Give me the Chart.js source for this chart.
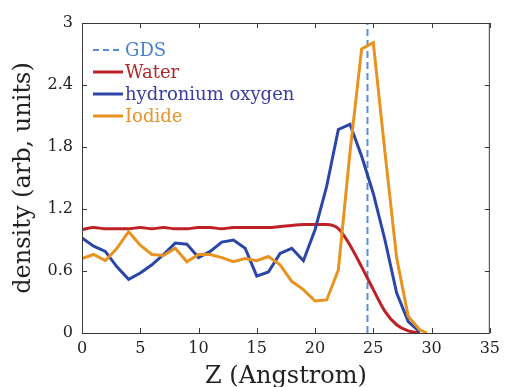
<!DOCTYPE html>
<html>
<head>
<meta charset="utf-8">
<script src="https://cdn.jsdelivr.net/npm/chart.js@4"></script>
<style>
  html, body { margin: 0; padding: 0; background: #fff; }
  #wrap { width: 506px; height: 387px; }
</style>
</head>
<body>
<div id="wrap"><canvas id="densityChart" width="506" height="387"></canvas></div>
<script>
// values
const zWater = [0,1,2,3,4,5,6,7,8,9,10,11,12,13,14,15,16,17,18,19,20,21,22,23,24,25,26,27,28,29];
const water = [1.00,1.02,1.01,1.01,1.01,1.02,1.01,1.02,1.01,1.01,1.02,1.02,1.01,1.02,1.02,1.02,1.02,1.03,1.04,1.05,1.05,1.05,1.01,0.85,0.64,0.42,0.21,0.08,0.02,0.00];

const zHydro = [0,1,2,3,4,5,6,7,8,9,10,11,12,13,14,15,16,17,18,19,20,21,22,23,24,25,26,27,28,29];
const hydronium = [0.92,0.84,0.79,0.64,0.52,0.58,0.66,0.76,0.87,0.86,0.73,0.79,0.88,0.90,0.82,0.55,0.59,0.77,0.82,0.70,1.00,1.42,1.97,2.02,1.71,1.35,0.90,0.39,0.11,0.01];

const zIodide = [0,1,2,3,4,5,6,7,8,9,10,11,12,13,14,15,16,17,18,19,20,21,22,23,24,25,26,27,28,29,29.6];
const iodide = [0.72,0.76,0.70,0.82,0.98,0.85,0.76,0.75,0.82,0.69,0.76,0.76,0.73,0.69,0.72,0.70,0.74,0.66,0.50,0.42,0.31,0.32,0.61,1.75,2.75,2.81,1.75,0.73,0.16,0.03,0.00];

const gdsZ = 24.5;
const xTicks = [0,5,10,15,20,25,30,35];
const yTicks = [0,0.6,1.2,1.8,2.4,3];

const serif = "'DejaVu Serif', serif";

const pts = (xs, ys) => xs.map((x, i) => ({ x: x, y: ys[i] }));

// MATLAB-style box with inward ticks, plus the in-plot legend
const boxPlugin = {
    id: 'boxPlugin',
    afterDraw(chart) {
        const { ctx, chartArea: a, scales: { x, y } } = chart;
        ctx.save();
        ctx.strokeStyle = '#3a3a3a';
        ctx.lineWidth = 1;
        ctx.strokeRect(a.left + 0.5, a.top + 0.5, a.right - a.left - 1, a.bottom - a.top);
        ctx.beginPath();
        const tl = 5;
        xTicks.forEach(v => {
            const px = Math.round(x.getPixelForValue(v)) + 0.5;
            ctx.moveTo(px, a.bottom); ctx.lineTo(px, a.bottom - tl);
            ctx.moveTo(px, a.top); ctx.lineTo(px, a.top + tl);
        });
        yTicks.forEach(v => {
            const py = Math.round(y.getPixelForValue(v)) + 0.5;
            ctx.moveTo(a.left, py); ctx.lineTo(a.left + tl, py);
            ctx.moveTo(a.right, py); ctx.lineTo(a.right - tl, py);
        });
        ctx.stroke();

        // legend
        const items = [
            { text: 'GDS', line: '#5b8ed6', color: '#4a7fcc', dash: [6, 4] },
            { text: 'Water', line: '#bf2026', color: '#b0282a', dash: [] },
            { text: 'hydronium oxygen', line: '#2c46a8', color: '#3a3c9e', dash: [] },
            { text: 'Iodide', line: '#e8931f', color: '#e8932b', dash: [] }
        ];
        const lx = a.left + 11, ly = a.top + 27, gap = 22;
        ctx.font = '18px ' + serif;
        ctx.textBaseline = 'middle';
        items.forEach((it, i) => {
            const yy = ly + i * gap;
            ctx.beginPath();
            ctx.setLineDash(it.dash);
            ctx.strokeStyle = it.line;
            ctx.lineWidth = it.dash.length ? 2 : 3;
            ctx.moveTo(lx, yy); ctx.lineTo(lx + 30, yy);
            ctx.stroke();
            ctx.setLineDash([]);
            ctx.fillStyle = it.color;
            ctx.fillText(it.text, lx + 32, yy + 1);
        });
        ctx.restore();
    }
};

new Chart(document.getElementById('densityChart'), {
    type: 'line',
    data: {
        datasets: [
            {
                label: 'GDS',
                data: [{ x: gdsZ, y: 0 }, { x: gdsZ, y: 3 }],
                borderColor: '#5b8ed6',
                borderWidth: 2,
                borderDash: [7, 4],
                pointRadius: 0,
                order: 4
            },
            {
                label: 'Water',
                data: pts(zWater, water),
                borderColor: '#bf2026',
                borderWidth: 3,
                pointRadius: 0,
                cubicInterpolationMode: 'monotone',
                order: 3
            },
            {
                label: 'hydronium oxygen',
                data: pts(zHydro, hydronium),
                borderColor: '#2c46a8',
                borderWidth: 3,
                pointRadius: 0,
                tension: 0,
                order: 2
            },
            {
                label: 'Iodide',
                data: pts(zIodide, iodide),
                borderColor: '#e8931f',
                borderWidth: 3,
                pointRadius: 0,
                tension: 0,
                order: 1
            }
        ]
    },
    options: {
        responsive: false,
        animation: false,
        layout: { padding: { top: 23, right: 12, left: 0, bottom: 0 } },
        scales: {
            x: {
                type: 'linear',
                min: 0,
                max: 35,
                afterFit: s => { s.height = 54; },
                afterBuildTicks: s => { s.ticks = xTicks.map(v => ({ value: v })); },
                grid: { display: false, drawTicks: false },
                border: { display: false },
                ticks: {
                    color: '#222',
                    padding: 6,
                    maxRotation: 0,
                    font: { family: serif, size: 16 },
                    callback: v => String(v)
                },
                title: {
                    display: true,
                    text: 'Z (Angstrom)',
                    color: '#222',
                    font: { family: serif, size: 24 },
                    padding: { top: 0, bottom: -4 }
                }
            },
            y: {
                min: 0,
                max: 3,
                afterFit: s => { s.width = 82; },
                afterBuildTicks: s => { s.ticks = yTicks.map(v => ({ value: v })); },
                grid: { display: false, drawTicks: false },
                border: { display: false },
                ticks: {
                    color: '#222',
                    padding: 9,
                    font: { family: serif, size: 16 },
                    callback: v => String(v)
                },
                title: {
                    display: true,
                    text: 'density (arb, units)',
                    color: '#222',
                    font: { family: serif, size: 24 },
                    padding: { top: 9, bottom: 0 }
                }
            }
        },
        plugins: {
            legend: { display: false },
            tooltip: { enabled: false }
        }
    },
    plugins: [boxPlugin]
});
</script>
</body>
</html>
